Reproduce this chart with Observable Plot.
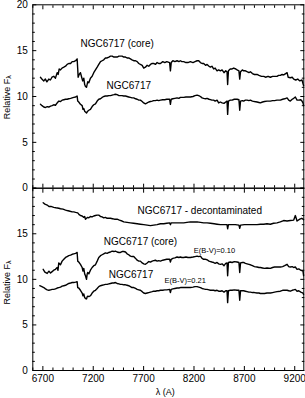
<!DOCTYPE html>
<html><head><meta charset="utf-8">
<script src="https://cdn.jsdelivr.net/npm/d3@7"></script>
<script src="https://cdn.jsdelivr.net/npm/@observablehq/plot@0.6"></script>
<style>
body{margin:0;background:#fff;}
#chart{position:relative;width:305px;height:398px;}
#chart svg{position:absolute;left:0;top:0;overflow:visible;}
</style></head><body><div id="chart"></div>
<script>
// ---- data: wavelength (A), relative flux ----
const coreTop = [[6676,12.1],[6690,11.9],[6709,11.7],[6725,11.9],[6740,11.6],[6759,11.9],[6775,11.8],[6790,12.1],[6808,12.2],[6825,12.0],[6842,12.6],[6852,12.4],[6862,13.0],[6875,12.9],[6890,13.1],[6908,13.2],[6925,13.3],[6941,13.5],[6957,13.6],[6975,13.6],[6991,13.8],[7007,13.8],[7025,13.9],[7040,14.1],[7046,13.0],[7050,12.1],[7060,12.4],[7073,12.6],[7085,12.1],[7095,11.7],[7106,12.0],[7115,11.3],[7123,11.1],[7133,11.0],[7145,11.6],[7156,11.5],[7172,12.0],[7189,12.2],[7205,12.6],[7222,12.9],[7239,13.2],[7255,13.5],[7272,13.8],[7288,13.9],[7304,14.0],[7321,14.2],[7338,14.2],[7355,14.3],[7371,14.4],[7388,14.4],[7405,14.3],[7420,14.3],[7437,14.3],[7455,14.4],[7470,14.4],[7486,14.4],[7503,14.3],[7520,14.3],[7536,14.2],[7552,14.2],[7569,14.1],[7585,14.0],[7602,13.9],[7620,13.9],[7636,13.8],[7652,13.6],[7668,13.5],[7686,13.4],[7701,13.1],[7718,13.2],[7735,13.4],[7751,13.3],[7768,13.5],[7785,13.6],[7800,13.6],[7817,13.5],[7834,13.7],[7850,13.6],[7867,13.6],[7890,13.8],[7910,13.7],[7930,13.8],[7958,13.7],[7966,12.8],[7974,13.7],[7990,13.9],[8010,13.8],[8032,13.9],[8050,13.8],[8065,13.9],[8080,13.8],[8098,13.8],[8120,13.7],[8140,13.7],[8164,13.8],[8190,13.7],[8210,13.8],[8231,13.9],[8247,13.9],[8264,13.7],[8280,13.6],[8296,13.6],[8315,13.4],[8330,13.5],[8349,13.3],[8363,13.2],[8378,13.3],[8395,13.0],[8410,13.1],[8429,12.8],[8445,12.9],[8462,12.8],[8479,12.9],[8498,12.6],[8515,12.8],[8528,12.7],[8534,11.3],[8542,12.8],[8560,13.0],[8578,13.0],[8595,13.1],[8615,13.0],[8628,12.9],[8646,12.8],[8654,11.9],[8662,12.7],[8680,12.9],[8693,12.8],[8710,12.8],[8727,12.7],[8745,12.6],[8760,12.7],[8780,12.5],[8800,12.4],[8826,12.4],[8845,12.3],[8870,12.2],[8892,12.2],[8910,12.1],[8935,12.2],[8958,12.1],[8980,12.2],[9000,12.2],[9024,12.2],[9040,12.3],[9057,12.3],[9075,12.4],[9090,12.35],[9110,12.5],[9124,12.6],[9135,12.1],[9156,12.05],[9175,12.1],[9190,11.9],[9210,11.8],[9230,11.9],[9250,11.7],[9272,11.8],[9282,11.4],[9288,11.2]];

const ngcTop = [[6676,9.15],[6692,9.0],[6709,8.85],[6726,8.8],[6743,8.9],[6759,8.85],[6776,8.95],[6792,9.0],[6808,9.1],[6825,9.05],[6842,9.3],[6858,9.5],[6875,9.45],[6891,9.6],[6908,9.65],[6925,9.7],[6941,9.7],[6957,9.75],[6975,9.8],[6991,9.85],[7007,9.9],[7025,9.95],[7040,10.05],[7046,9.5],[7056,9.4],[7073,9.15],[7090,9.0],[7098,8.6],[7106,8.7],[7115,8.4],[7123,8.3],[7133,8.2],[7145,8.4],[7156,8.5],[7172,8.6],[7189,8.9],[7205,9.1],[7222,9.2],[7239,9.5],[7255,9.7],[7272,9.75],[7288,9.9],[7304,10.0],[7321,10.05],[7338,10.05],[7355,10.1],[7371,10.1],[7388,10.15],[7405,10.2],[7420,10.25],[7437,10.2],[7455,10.1],[7470,10.1],[7486,10.1],[7503,10.05],[7520,10.05],[7536,10.0],[7552,9.95],[7569,9.9],[7585,9.85],[7602,9.85],[7620,9.75],[7636,9.7],[7652,9.6],[7668,9.6],[7686,9.45],[7701,9.3],[7718,9.2],[7735,9.3],[7751,9.4],[7768,9.45],[7785,9.5],[7800,9.55],[7817,9.55],[7834,9.6],[7850,9.55],[7867,9.6],[7890,9.65],[7910,9.65],[7930,9.7],[7958,9.7],[7966,9.15],[7974,9.7],[7990,9.75],[8010,9.8],[8032,9.85],[8050,9.8],[8065,9.9],[8080,9.9],[8098,9.9],[8120,9.95],[8140,9.95],[8164,9.95],[8190,10.0],[8210,10.1],[8231,10.15],[8247,10.1],[8264,10.0],[8280,9.85],[8296,9.8],[8315,9.75],[8330,9.8],[8349,9.7],[8363,9.65],[8378,9.6],[8395,9.6],[8410,9.5],[8429,9.6],[8445,9.3],[8462,9.4],[8479,9.3],[8498,9.25],[8515,9.4],[8528,9.5],[8534,8.05],[8542,9.5],[8560,9.6],[8578,9.6],[8600,9.7],[8628,9.7],[8646,9.65],[8654,8.5],[8662,9.5],[8680,9.55],[8693,9.5],[8710,9.6],[8727,9.6],[8745,9.55],[8760,9.6],[8780,9.5],[8800,9.45],[8826,9.4],[8845,9.35],[8859,9.3],[8880,9.4],[8900,9.45],[8925,9.5],[8958,9.5],[8980,9.55],[9000,9.55],[9024,9.6],[9057,9.6],[9080,9.7],[9100,9.75],[9124,9.85],[9140,9.6],[9156,9.5],[9175,9.7],[9190,9.8],[9206,9.95],[9223,9.6],[9240,9.6],[9260,9.65],[9272,9.5],[9282,9.3],[9288,9.0]];

const decontBottom = [[6703,18.4],[6720,18.25],[6743,18.15],[6760,18.0],[6780,18.0],[6808,17.9],[6830,17.85],[6858,17.8],[6875,17.75],[6900,17.7],[6925,17.6],[6941,17.55],[6960,17.5],[6991,17.4],[7007,17.4],[7025,17.35],[7046,17.3],[7060,17.1],[7073,17.0],[7090,16.95],[7106,16.8],[7115,16.9],[7123,16.6],[7133,16.7],[7145,16.8],[7156,16.75],[7172,16.9],[7189,16.85],[7205,16.95],[7222,17.0],[7239,17.05],[7255,17.05],[7272,16.9],[7288,16.85],[7304,16.75],[7321,16.8],[7338,16.7],[7355,16.7],[7371,16.7],[7390,16.65],[7410,16.6],[7437,16.6],[7460,16.5],[7486,16.4],[7503,16.3],[7536,16.25],[7569,16.2],[7600,16.15],[7636,16.1],[7668,16.05],[7701,16.0],[7735,15.95],[7768,15.9],[7800,15.95],[7834,16.0],[7867,16.1],[7900,16.1],[7930,16.15],[7958,16.2],[7966,16.0],[7974,16.2],[8030,16.2],[8065,16.2],[8098,16.2],[8130,16.25],[8164,16.3],[8200,16.3],[8231,16.3],[8264,16.25],[8296,16.2],[8330,16.2],[8363,16.15],[8400,16.1],[8429,16.05],[8462,16.0],[8490,16.0],[8528,16.0],[8534,15.55],[8542,16.0],[8578,16.0],[8610,16.0],[8646,15.95],[8654,15.6],[8662,15.95],[8700,16.0],[8727,16.0],[8760,16.0],[8793,16.0],[8826,16.0],[8860,16.05],[8892,16.05],[8925,16.1],[8958,16.05],[8990,16.15],[9024,16.2],[9057,16.3],[9090,16.45],[9124,16.4],[9156,16.45],[9190,16.5],[9206,17.0],[9223,16.4],[9250,16.6],[9270,16.7],[9288,16.55]];

const coreBottom = [[6703,11.1],[6720,10.8],[6743,10.65],[6760,10.9],[6776,10.7],[6792,10.85],[6808,11.0],[6825,11.1],[6842,11.3],[6850,11.0],[6858,11.8],[6875,11.6],[6891,12.0],[6908,12.2],[6925,12.4],[6941,12.5],[6957,12.6],[6975,12.65],[6991,12.75],[7007,12.8],[7025,12.85],[7040,12.95],[7046,12.0],[7056,11.9],[7073,11.65],[7090,11.3],[7098,10.9],[7106,11.2],[7115,10.6],[7123,10.4],[7133,10.0],[7140,10.6],[7145,10.75],[7156,10.6],[7172,11.0],[7189,11.3],[7205,11.5],[7222,11.6],[7239,12.0],[7255,12.4],[7272,12.6],[7288,12.7],[7304,12.8],[7321,12.9],[7338,12.85],[7355,12.95],[7371,13.0],[7388,13.1],[7405,13.05],[7420,13.1],[7437,13.0],[7455,12.95],[7470,12.95],[7486,13.05],[7503,13.05],[7520,13.0],[7536,12.8],[7552,12.7],[7569,12.55],[7585,12.5],[7602,12.5],[7620,12.3],[7636,12.1],[7652,12.0],[7668,12.0],[7686,11.8],[7701,11.7],[7718,11.65],[7735,11.8],[7751,11.95],[7768,11.9],[7785,12.0],[7800,12.05],[7817,12.1],[7834,12.0],[7850,12.05],[7867,12.0],[7890,12.1],[7910,12.15],[7930,12.2],[7958,12.2],[7966,11.9],[7974,12.2],[7990,12.3],[8010,12.35],[8032,12.45],[8050,12.4],[8065,12.45],[8080,12.4],[8098,12.4],[8120,12.45],[8140,12.4],[8164,12.4],[8190,12.45],[8210,12.5],[8231,12.55],[8247,12.5],[8264,12.55],[8280,12.3],[8296,12.2],[8315,12.2],[8330,12.15],[8349,12.0],[8363,11.95],[8378,11.9],[8395,11.85],[8410,11.75],[8429,11.85],[8445,11.7],[8462,11.65],[8479,11.7],[8498,11.5],[8515,11.75],[8528,11.8],[8534,10.4],[8542,11.85],[8560,11.9],[8578,11.85],[8600,11.95],[8628,11.9],[8646,11.85],[8654,10.75],[8662,11.8],[8680,11.85],[8693,11.85],[8710,11.75],[8727,11.7],[8745,11.65],[8760,11.6],[8780,11.5],[8800,11.4],[8826,11.35],[8845,11.3],[8859,11.3],[8880,11.25],[8900,11.2],[8925,11.25],[8958,11.2],[8980,11.3],[9000,11.35],[9024,11.35],[9057,11.35],[9080,11.4],[9100,11.5],[9124,11.65],[9140,11.4],[9156,11.35],[9175,11.4],[9190,11.3],[9206,11.35],[9223,11.1],[9240,11.15],[9260,11.0],[9272,10.95],[9282,10.9],[9288,10.4]];

const ngcBottom = [[6669,9.3],[6690,9.2],[6709,9.1],[6726,8.95],[6743,8.85],[6759,8.8],[6776,8.85],[6792,8.9],[6808,8.9],[6825,8.95],[6842,9.05],[6858,9.1],[6875,9.15],[6891,9.25],[6908,9.3],[6925,9.35],[6941,9.45],[6957,9.55],[6975,9.6],[6991,9.65],[7007,9.65],[7025,9.7],[7040,9.75],[7046,9.1],[7056,9.05],[7073,8.8],[7090,8.5],[7098,8.2],[7106,8.4],[7115,8.0],[7123,7.9],[7133,7.85],[7140,8.1],[7145,8.15],[7156,8.1],[7172,8.2],[7189,8.5],[7205,8.7],[7222,8.8],[7239,9.0],[7255,9.2],[7272,9.3],[7288,9.35],[7304,9.4],[7321,9.45],[7338,9.45],[7355,9.5],[7371,9.55],[7388,9.6],[7405,9.6],[7420,9.65],[7437,9.55],[7455,9.5],[7470,9.45],[7486,9.45],[7503,9.4],[7520,9.4],[7536,9.35],[7552,9.3],[7569,9.2],[7585,9.1],[7602,9.1],[7620,9.0],[7636,8.9],[7652,8.85],[7668,8.8],[7686,8.65],[7701,8.5],[7718,8.45],[7735,8.5],[7751,8.55],[7768,8.6],[7785,8.65],[7800,8.7],[7817,8.7],[7834,8.75],[7850,8.75],[7867,8.8],[7890,8.8],[7910,8.85],[7930,8.85],[7958,8.9],[7966,8.55],[7974,8.9],[7990,8.95],[8010,9.0],[8032,9.05],[8050,9.05],[8065,9.1],[8080,9.1],[8098,9.1],[8120,9.1],[8140,9.1],[8164,9.1],[8190,9.15],[8210,9.2],[8231,9.2],[8247,9.15],[8264,9.1],[8280,9.0],[8296,8.95],[8315,8.9],[8330,8.9],[8349,8.85],[8363,8.8],[8378,8.8],[8395,8.8],[8410,8.75],[8429,8.8],[8445,8.7],[8462,8.7],[8479,8.75],[8498,8.6],[8515,8.75],[8528,8.75],[8534,7.45],[8542,8.75],[8560,8.8],[8578,8.8],[8600,8.85],[8628,8.8],[8646,8.8],[8654,7.7],[8662,8.75],[8680,8.75],[8693,8.75],[8710,8.7],[8727,8.65],[8745,8.6],[8760,8.6],[8780,8.55],[8800,8.55],[8826,8.5],[8845,8.5],[8859,8.45],[8880,8.45],[8900,8.45],[8925,8.5],[8958,8.5],[8980,8.55],[9000,8.6],[9024,8.65],[9057,8.7],[9080,8.8],[9100,8.8],[9124,8.8],[9140,8.75],[9156,8.7],[9175,8.8],[9190,8.85],[9206,8.9],[9223,8.7],[9240,8.75],[9260,8.6],[9272,8.55],[9282,8.5],[9288,8.35]];

// ---- annotations (anchor in data units) ----
const labelsTop = [
  {text: "NGC6717 (core)", wl: 7073, flux: 15.8},
  {text: "NGC6717", wl: 7332, flux: 11.2}
];
const labelsBottom = [
  {text: "NGC6717 - decontaminated", wl: 7639, flux: 17.55},
  {text: "NGC6717 (core)", wl: 7304, flux: 14.07},
  {text: "NGC6717", wl: 7354, flux: 10.5}
];
const reddeningLabels = [
  {text: "E(B-V)=0.10", wl: 8197, flux: 13.2},
  {text: "E(B-V)=0.21", wl: 7907, flux: 9.84}
];

// ---- axes ----
const xDomain = [6600, 9290];
const yDomain = [0, 20];
const xMajor = [6700, 7200, 7700, 8200, 8700, 9200];
const xMinor = d3.range(6600, 9300, 100).filter(v => !xMajor.includes(v));
const yMajor = [0, 5, 10, 15, 20];
const yMinor = d3.range(1, 20, 1).filter(v => v % 5 !== 0);
const yLabelsTop = [0, 5, 10, 15, 20];
const yLabelsBottom = [0, 5, 10, 15];
const yTitle = "Relative F";
const yTitleSub = "λ";
const xTitle = "λ (A)";

const FONT = "'Liberation Sans', Arial, Helvetica, sans-serif";
const W = 305, H = 398;
const left = 32.3, right = 303.3;

function tickMarks() {
  const none = () => "";
  const o = {tickFormat: none, label: null, stroke: "#000"};
  return [
    Plot.axisX(xMajor, {...o, anchor: "bottom", tickSize: 4, dy: -4}),
    Plot.axisX(xMinor, {...o, anchor: "bottom", tickSize: 2.5, dy: -2.5}),
    Plot.axisX(xMajor, {...o, anchor: "top", tickSize: 4, dy: 4}),
    Plot.axisX(xMinor, {...o, anchor: "top", tickSize: 2.5, dy: 2.5}),
    Plot.axisY(yMajor, {...o, anchor: "left", tickSize: 4, dx: 4}),
    Plot.axisY(yMinor, {...o, anchor: "left", tickSize: 2.5, dx: 2.5}),
    Plot.axisY(yMajor, {...o, anchor: "right", tickSize: 4, dx: -4}),
    Plot.axisY(yMinor, {...o, anchor: "right", tickSize: 2.5, dx: -2.5})
  ];
}

function lineMark(data) {
  return Plot.line(data, {x: d => d[0], y: d => d[1], stroke: "#000", strokeWidth: 1.4});
}

function panel({top, bottom, series, labels, yLabels, titleDy, extra = []}) {
  return Plot.plot({
    width: W, height: H,
    marginLeft: left, marginRight: W - right,
    marginTop: top, marginBottom: H - bottom,
    x: {domain: xDomain},
    y: {domain: yDomain},
    style: {fontFamily: FONT, fontSize: "10px", background: "transparent", overflow: "visible", color: "#000"},
    marks: [
      Plot.frame({stroke: "#000"}),
      ...tickMarks(),
      Plot.axisY(yLabels, {anchor: "left", tickSize: 0, tickPadding: 5, label: null, fontSize: 10}),
      ...series.map(lineMark),
      Plot.text(labels, {x: "wl", y: "flux", text: "text", textAnchor: "start", lineAnchor: "middle", fontSize: 10, fill: "#000"}),
      Plot.text([yTitle], {frameAnchor: "left", dx: -23.3, dy: titleDy, rotate: -90, textAnchor: "middle", lineAnchor: "bottom", fontSize: 9, fill: "#000"}),
      Plot.text([yTitleSub], {frameAnchor: "left", dx: -22, dy: titleDy - 22, rotate: -90, textAnchor: "middle", lineAnchor: "bottom", fontSize: 7, fill: "#000"}),
      ...extra
    ]
  });
}

const topPlot = panel({
  top: 4.3, bottom: 187.7,
  series: [coreTop, ngcTop],
  labels: labelsTop,
  yLabels: yLabelsTop,
  titleDy: 2.5
});

const bottomPlot = panel({
  top: 187.7, bottom: 370,
  series: [decontBottom, coreBottom, ngcBottom],
  labels: labelsBottom,
  yLabels: yLabelsBottom,
  titleDy: 5,
  extra: [
    Plot.text(reddeningLabels, {x: "wl", y: "flux", text: "text", textAnchor: "start", lineAnchor: "middle", fontSize: 7.5, fill: "#000"}),
    Plot.axisX(xMajor, {anchor: "bottom", tickSize: 0, tickPadding: 4, label: null, tickFormat: d => String(d), fontSize: 10}),
    Plot.text([xTitle], {frameAnchor: "bottom", dx: -3, dy: 22, textAnchor: "middle", lineAnchor: "middle", fontSize: 9, fill: "#000"})
  ]
});

const el = document.getElementById("chart");
el.appendChild(topPlot);
el.appendChild(bottomPlot);
</script></body></html>
